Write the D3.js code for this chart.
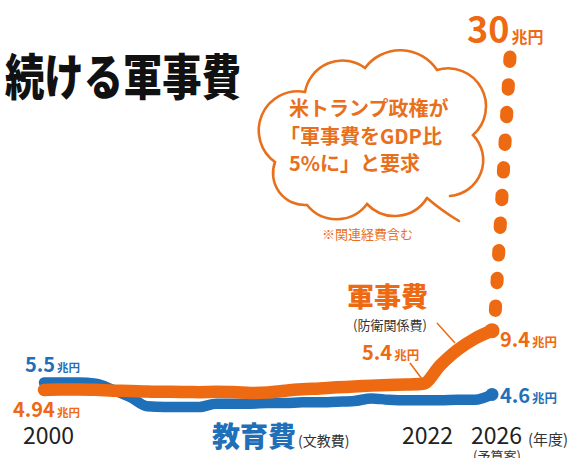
<!DOCTYPE html>
<html>
<head>
<meta charset="utf-8">
<script src="https://cdn.jsdelivr.net/npm/d3@7"></script>
<style>
body { margin: 0; background: #fff; }
svg { display: block; font-family: "Noto Sans CJK JP", "Noto Sans", sans-serif; }
</style>
</head>
<body>
<svg width="575" height="458"></svg>
<script>
//--------------------------DATA------------------------------------------------
var years = [2000, 2001, 2002, 2003, 2004, 2005, 2006, 2007, 2008, 2009,
             2010, 2011, 2012, 2013, 2014, 2015, 2016, 2017, 2018, 2019,
             2020, 2021, 2022, 2023, 2024, 2025, 2026];
// 防衛関係費 (兆円)
var military = [4.94, 4.96, 4.96, 4.95, 4.88, 4.86, 4.81, 4.80, 4.78, 4.77,
                4.79, 4.78, 4.71, 4.75, 4.88, 4.98, 5.05, 5.13, 5.19, 5.26,
                5.31, 5.34, 5.40, 6.80, 7.95, 8.80, 9.40];
// 文教費 (兆円)
var education = [5.5, 5.5, 5.5, 5.4, 4.95, 4.4, 3.7, 3.65, 3.65, 3.65,
                 3.9, 3.9, 3.9, 3.95, 3.95, 4.0, 4.0, 4.05, 4.1, 4.3,
                 4.2, 4.15, 4.15, 4.15, 4.2, 4.2, 4.6];
var tickYears = [2000, 2022, 2026];
var goalValue = 30;   // GDP比5%
var cloudLines = ["米トランプ政権が", "「軍事費をGDP比", "5%に」と要求"];

var ORANGE = "#ee6a12";
var BLUE = "#1f6fb9";
var TEXT_OR = "#e8701d";

//--------------------------D3--------------------------------------------------
var svg = d3.select("svg");

var x = d3.scaleLinear().domain([2000, 2026]).range([44, 492]);
var y = d3.scaleLinear().domain([0, 30]).range([455.5, 57]);

var milData = years.map(function(d, i) { return { year: d, value: military[i] }; });
var eduData = years.map(function(d, i) { return { year: d, value: education[i] }; });

var line = d3.line()
    .x(function(d) { return x(d.year); })
    .y(function(d) { return y(d.value); })
    .curve(d3.curveMonotoneX);

// title
svg.append("text")
    .attr("x", 5)
    .attr("y", 95)
    .attr("textLength", 236)
    .attr("lengthAdjust", "spacingAndGlyphs")
    .style("font-size", "49px")
    .style("font-weight", 900)
    .style("fill", "#111")
    .text("続ける軍事費");

// cloud bubble
var cusps = [[427, 198], [367, 204], [307, 205], [275, 162], [305, 92],
             [365, 68], [437, 70], [473, 135], [450, 196]];
var radii = [38, 38, 32, 39, 38, 44, 38, 36];
var cloud = "M" + cusps[0];
for (var i = 1; i < cusps.length; i++) {
    cloud += "A" + radii[i - 1] + "," + radii[i - 1] + " 0 0 1 " + cusps[i];
}
svg.append("path")
    .attr("d", cloud)
    .style("fill", "none")
    .style("stroke", TEXT_OR)
    .style("stroke-width", 2.6)
    .style("stroke-linecap", "round");
svg.append("path")
    .attr("d", "M427,198 Q442,211 459,221")
    .style("fill", "none")
    .style("stroke", TEXT_OR)
    .style("stroke-width", 2.6)
    .style("stroke-linecap", "round");

svg.selectAll(".cloud-text")
    .data(cloudLines)
    .enter().append("text")
    .attr("class", "cloud-text")
    .attr("x", function(d, i) { return i === 1 ? 280 : 289; })
    .attr("y", function(d, i) { return 116 + i * 27.5; })
    .style("font-size", "20px")
    .style("font-weight", 700)
    .style("fill", TEXT_OR)
    .text(function(d) { return d; });

svg.append("text")
    .attr("x", 322)
    .attr("y", 239)
    .style("font-size", "13px")
    .style("fill", TEXT_OR)
    .text("※関連経費含む");

// dashed projection to the goal
var last = milData[milData.length - 1];
svg.append("path")
    .attr("d", d3.line()([
        [x(last.year) + 18, y(goalValue)],
        [x(last.year) + 3, y(last.value) - 14]
    ]))
    .style("stroke", ORANGE)
    .style("stroke-width", 13)
    .style("stroke-linecap", "round")
    .style("stroke-dasharray", "4.5,23.2");

// series lines
svg.append("path")
    .datum(eduData)
    .attr("d", line)
    .style("fill", "none")
    .style("stroke", BLUE)
    .style("stroke-width", 10.5)
    .style("stroke-linecap", "round")
    .style("stroke-linejoin", "round");
svg.append("circle")
    .attr("cx", x(eduData[eduData.length - 1].year))
    .attr("cy", y(eduData[eduData.length - 1].value))
    .attr("r", 6.5)
    .style("fill", BLUE);
svg.append("path")
    .datum(milData)
    .attr("d", line)
    .style("fill", "none")
    .style("stroke", ORANGE)
    .style("stroke-width", 12.5)
    .style("stroke-linecap", "round")
    .style("stroke-linejoin", "round");
svg.append("circle")
    .attr("cx", x(last.year))
    .attr("cy", y(last.value))
    .attr("r", 7.5)
    .style("fill", ORANGE);

// value labels
var labels = [
    { year: 2000, value: education[0], dx: -19, dy: -10.5, size: 20, unit: 11.5, color: BLUE },
    { year: 2000, value: military[0], dx: -31, dy: 27, size: 20, unit: 11.5, color: ORANGE },
    { year: 2022, value: military[22], dx: -61, dy: -24, size: 20, unit: 12.5, color: ORANGE },
    { year: 2026, value: military[26], dx: 8, dy: 16, size: 20, unit: 12.5, color: ORANGE },
    { year: 2026, value: education[26], dx: 8, dy: 9, size: 20, unit: 12.5, color: BLUE },
    { year: 2026, value: goalValue, dx: -25, dy: -14, size: 36, unit: 16, color: ORANGE }
];
var lab = svg.selectAll(".value")
    .data(labels)
    .enter().append("text")
    .attr("class", "value")
    .attr("x", function(d) { return x(d.year) + d.dx; })
    .attr("y", function(d) { return y(d.value) + d.dy; })
    .style("font-weight", 700)
    .style("fill", function(d) { return d.color; });
lab.append("tspan")
    .style("font-size", function(d) { return d.size + "px"; })
    .text(function(d) { return String(d.value); });
lab.append("tspan")
    .attr("dx", 2)
    .style("font-size", function(d) { return d.unit + "px"; })
    .text("兆円");

// series names
svg.append("text")
    .attr("x", 347)
    .attr("y", 307)
    .style("font-size", "27px")
    .style("font-weight", 900)
    .style("fill", ORANGE)
    .text("軍事費");
svg.append("text")
    .attr("x", 390)
    .attr("y", 330)
    .attr("text-anchor", "middle")
    .style("font-size", "13px")
    .style("fill", "#333")
    .text("(防衛関係費)");
svg.append("text")
    .attr("x", 212)
    .attr("y", 447)
    .style("font-size", "28px")
    .style("font-weight", 900)
    .style("fill", BLUE)
    .text("教育費");
svg.append("text")
    .attr("x", 298)
    .attr("y", 446)
    .style("font-size", "14px")
    .style("fill", "#333")
    .text("(文教費)");

// leader lines
svg.append("path")
    .attr("d", "M437,323 L455,343")
    .style("stroke", ORANGE)
    .style("stroke-width", 1.5);
svg.append("path")
    .attr("d", "M410,363 L422,379")
    .style("stroke", ORANGE)
    .style("stroke-width", 1.5);

// x axis
var axis = svg.append("g")
    .attr("transform", "translate(4,428)")
    .call(d3.axisBottom(x).tickValues(tickYears).tickFormat(d3.format("d")).tickSize(0).tickPadding(0));
axis.select(".domain").remove();
axis.selectAll("text")
    .style("font-family", "'Noto Sans CJK JP', 'Noto Sans', sans-serif")
    .style("font-size", "23px")
    .style("fill", "#222");

svg.append("text")
    .attr("x", 528)
    .attr("y", 445)
    .style("font-size", "15px")
    .style("fill", "#333")
    .text("(年度)");
svg.append("text")
    .attr("x", x(2026) + 5)
    .attr("y", 461)
    .attr("text-anchor", "middle")
    .style("font-size", "13px")
    .style("fill", "#333")
    .text("(予算案)");
</script>
</body>
</html>
